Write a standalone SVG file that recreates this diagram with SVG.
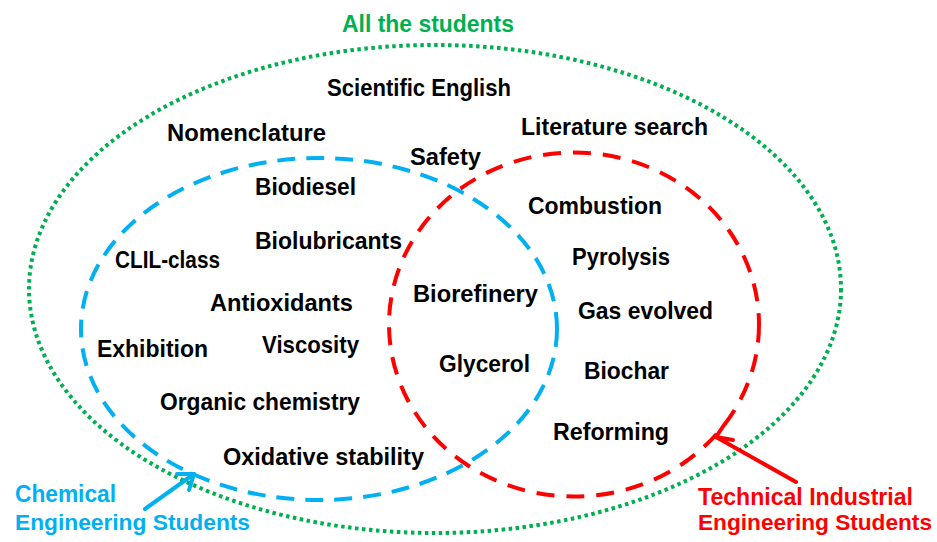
<svg xmlns="http://www.w3.org/2000/svg" width="937" height="542" viewBox="0 0 937 542">
<defs>
<style>
text{font-family:"Liberation Sans",Arial,sans-serif;font-weight:bold;font-size:24px}
.k{fill:#000}
.g{fill:#00b050}
.b{fill:#00b0f0}
.r{fill:#ff0000}
.low{font-size:22px}
</style>
</defs>
<rect width="937" height="542" fill="#fff"/>
<g id="sets">
<g id="all-students">
<ellipse cx="435" cy="289" rx="406" ry="244" fill="none" stroke="#00b050" stroke-width="4" stroke-dasharray="3.5 3.5"/>
<text class="g" x="342" y="32" textLength="172" lengthAdjust="spacingAndGlyphs">All the students</text>
</g>
<g id="chemical">
<ellipse cx="319" cy="329" rx="238" ry="171" fill="none" stroke="#00b0f0" stroke-width="4" stroke-dasharray="18 11"/>
<text class="b" x="15" y="502" textLength="101" lengthAdjust="spacingAndGlyphs">Chemical</text>
<text class="b low" x="15" y="530" textLength="235" lengthAdjust="spacingAndGlyphs">Engineering Students</text>
</g>
<g id="technical">
<ellipse cx="574" cy="324.5" rx="185" ry="172" fill="none" stroke="#ff0000" stroke-width="4" stroke-dasharray="18 12"/>
<text class="r" x="698" y="505" textLength="215" lengthAdjust="spacingAndGlyphs">Technical Industrial</text>
<text class="r low" x="698" y="530" textLength="234" lengthAdjust="spacingAndGlyphs">Engineering Students</text>
</g>
</g>
<g id="connectors" fill="none" stroke-width="4" stroke-linecap="round" stroke-linejoin="round">
<g stroke="#00b0f0">
<line x1="145" y1="509" x2="194" y2="474"/>
<polyline points="177,474 194,474 189,490"/>
</g>
<g stroke="#ff0000">
<line x1="796" y1="482" x2="716" y2="437"/>
<polyline points="724,425 716,437 733,440"/>
</g>
</g>
<g id="topics">
<text class="k" x="327" y="96" textLength="184" lengthAdjust="spacingAndGlyphs">Scientific English</text>
<text class="k" x="521" y="135" textLength="187" lengthAdjust="spacingAndGlyphs">Literature search</text>
<text class="k" x="167" y="141" textLength="159" lengthAdjust="spacingAndGlyphs">Nomenclature</text>
<text class="k" x="410" y="165" textLength="71" lengthAdjust="spacingAndGlyphs">Safety</text>
<text class="k" x="255" y="195" textLength="101" lengthAdjust="spacingAndGlyphs">Biodiesel</text>
<text class="k" x="528" y="214" textLength="134" lengthAdjust="spacingAndGlyphs">Combustion</text>
<text class="k" x="255" y="249" textLength="147" lengthAdjust="spacingAndGlyphs">Biolubricants</text>
<text class="k" x="115" y="268" textLength="105" lengthAdjust="spacingAndGlyphs">CLIL-class</text>
<text class="k" x="572" y="265" textLength="98" lengthAdjust="spacingAndGlyphs">Pyrolysis</text>
<text class="k" x="210" y="311" textLength="143" lengthAdjust="spacingAndGlyphs">Antioxidants</text>
<text class="k" x="413" y="302" textLength="125" lengthAdjust="spacingAndGlyphs">Biorefinery</text>
<text class="k" x="578" y="319" textLength="135" lengthAdjust="spacingAndGlyphs">Gas evolved</text>
<text class="k" x="97" y="357" textLength="111" lengthAdjust="spacingAndGlyphs">Exhibition</text>
<text class="k" x="262" y="353" textLength="97" lengthAdjust="spacingAndGlyphs">Viscosity</text>
<text class="k" x="439" y="372" textLength="91" lengthAdjust="spacingAndGlyphs">Glycerol</text>
<text class="k" x="584" y="379" textLength="85" lengthAdjust="spacingAndGlyphs">Biochar</text>
<text class="k" x="160" y="410" textLength="200" lengthAdjust="spacingAndGlyphs">Organic chemistry</text>
<text class="k" x="553" y="440" textLength="116" lengthAdjust="spacingAndGlyphs">Reforming</text>
<text class="k" x="223" y="465" textLength="201" lengthAdjust="spacingAndGlyphs">Oxidative stability</text>
</g>
</svg>
